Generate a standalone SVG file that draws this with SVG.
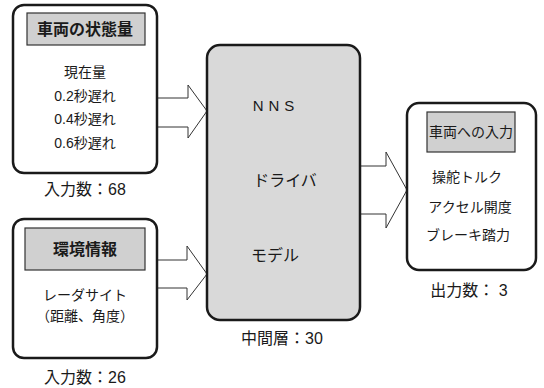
<svg xmlns="http://www.w3.org/2000/svg" width="544" height="388" viewBox="0 0 544 388">
<style>
.box{fill:#ffffff;stroke:#1a1a1a;stroke-width:2.5}
.mid{fill:#d9d9d9;stroke:#1a1a1a;stroke-width:2.5}
.hdr{fill:#d0d0d0;stroke:#333333;stroke-width:1.2}
.arrow{fill:#ffffff;stroke:#333333;stroke-width:1}
text{font-family:"Liberation Sans","Noto Sans CJK JP",sans-serif;fill:#1a1a1a;text-anchor:middle}
.h{font-size:16px;font-weight:bold}
.h2{font-size:14px}
.t{font-size:14px}
.m{font-size:16px}
.c{font-size:16px}
</style>
<rect width="544" height="388" fill="#ffffff"/>
<g id="connectors">
<polygon class="arrow" points="157,98 188,98 188,85 207,111 188,138 188,127 157,127"/>
<polygon class="arrow" points="157,260 187,260 187,246 207,274 187,300 187,288 157,288"/>
<polygon class="arrow" points="360,166 386,166 386,152 407,190 386,228 386,214 360,214"/>
</g>
<g id="vehicle-state">
<rect class="box" x="13" y="5" width="144" height="168" rx="11"/>
<rect class="hdr" x="27" y="13" width="118" height="32"/>
<text class="h" x="85" y="35">車両の状態量</text>
<text class="t" x="85" y="77">現在量</text>
<text class="t" x="85" y="101">0.2秒遅れ</text>
<text class="t" x="85" y="124">0.4秒遅れ</text>
<text class="t" x="85" y="148">0.6秒遅れ</text>
<text class="c" x="85" y="195">入力数：68</text>
</g>
<g id="environment">
<rect class="box" x="13" y="219" width="144" height="139" rx="11"/>
<rect class="hdr" x="25" y="228" width="120" height="42"/>
<text class="h" x="85" y="255">環境情報</text>
<text class="t" x="85" y="300">レーダサイト</text>
<text class="t" x="85" y="321">（距離、角度）</text>
<text class="c" x="85" y="383">入力数：26</text>
</g>
<g id="nns-driver-model">
<rect class="mid" x="207" y="45" width="153" height="275" rx="13"/>
<text class="m" x="276" y="111" style="font-size:15px;letter-spacing:5px">NNS</text>
<text class="m" x="285" y="186">ドライバ</text>
<text class="m" x="275" y="261">モデル</text>
<text class="c" x="282" y="344">中間層：30</text>
</g>
<g id="vehicle-input">
<rect class="box" x="407" y="103" width="129" height="167" rx="12"/>
<rect class="hdr" x="427" y="112" width="88" height="40"/>
<text class="h2" x="471" y="137">車両への入力</text>
<text class="t" x="467" y="182">操舵トルク</text>
<text class="t" x="470" y="212">アクセル開度</text>
<text class="t" x="468" y="240">ブレーキ踏力</text>
<text class="c" x="469" y="296">出力数： 3</text>
</g>
</svg>
